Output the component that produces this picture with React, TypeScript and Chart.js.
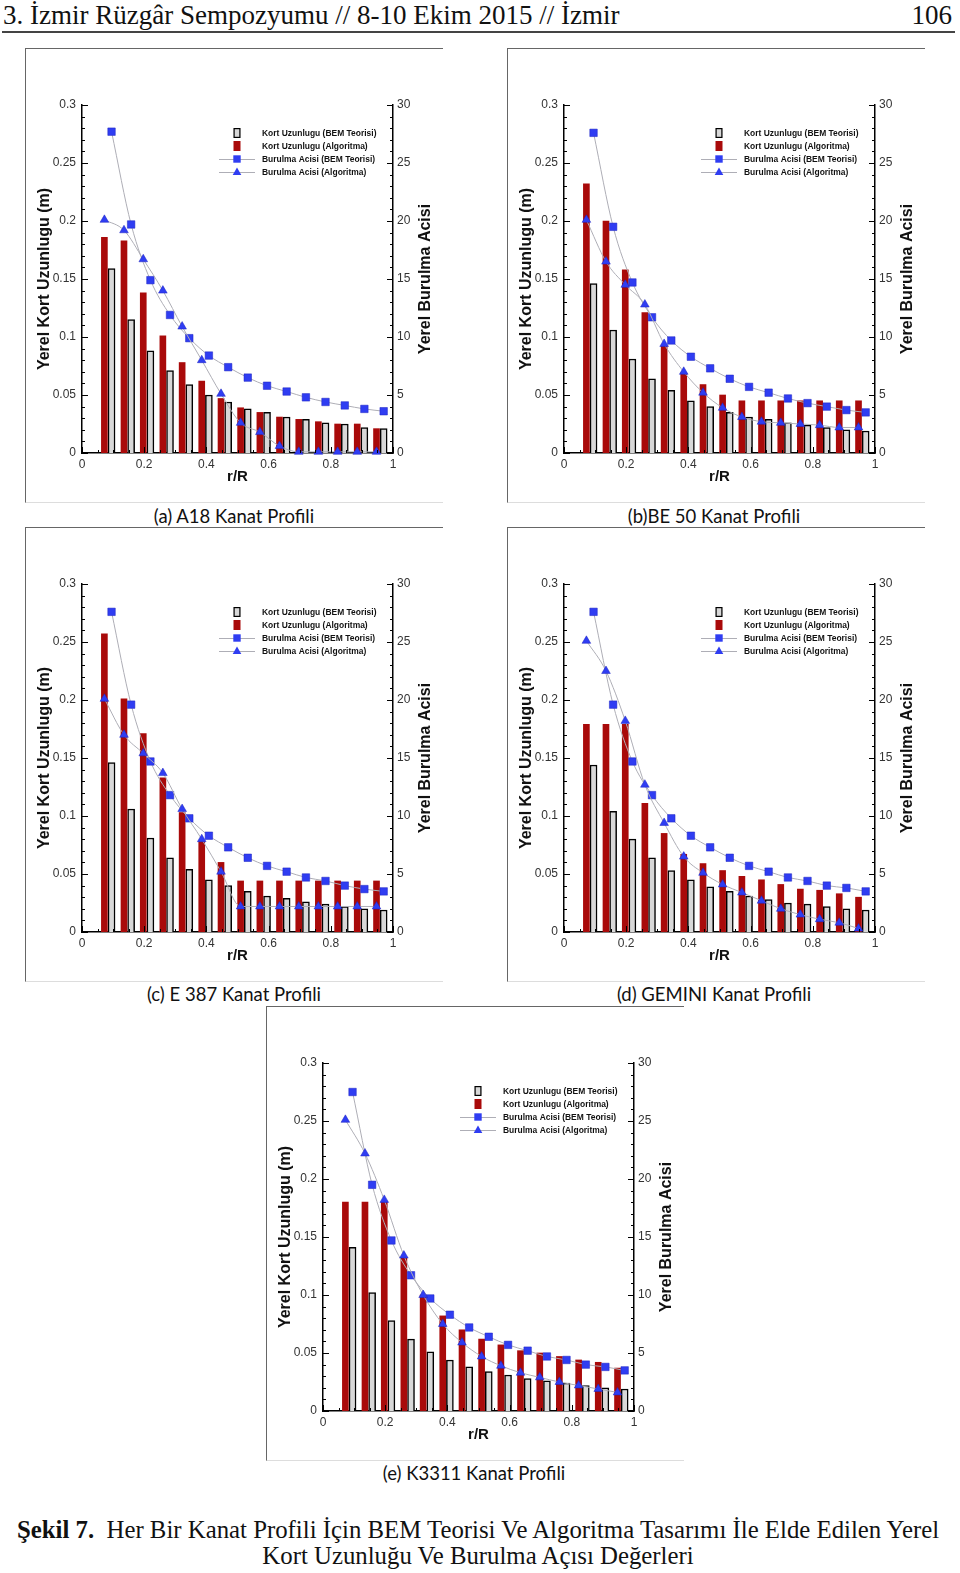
import React, { useEffect, useRef } from "react";
import { Chart, registerables } from "chart.js";

Chart.register(...registerables);

// r/R stations
const rRAlgoritma = [0.072, 0.135, 0.197, 0.26, 0.322, 0.385, 0.447, 0.51, 0.572, 0.635, 0.697, 0.76, 0.822, 0.885, 0.947];
const rRBem = [0.095, 0.158, 0.22, 0.283, 0.345, 0.408, 0.47, 0.533, 0.595, 0.658, 0.72, 0.783, 0.845, 0.908, 0.97];

const legendLabels = [
  "Kort Uzunlugu (BEM Teorisi)",
  "Kort Uzunlugu (Algoritma)",
  "Burulma Acisi (BEM Teorisi)",
  "Burulma Acisi (Algoritma)",
];

// (a) A18
const a18KortBem = [0.159, 0.115, 0.088, 0.071, 0.059, 0.05, 0.044, 0.038, 0.035, 0.031, 0.029, 0.026, 0.025, 0.022, 0.021];
const a18KortAlg = [0.186, 0.183, 0.138, 0.101, 0.078, 0.062, 0.047, 0.039, 0.035, 0.031, 0.029, 0.027, 0.025, 0.025, 0.021];
const a18BurBem = [27.7, 19.7, 14.9, 11.9, 9.9, 8.4, 7.4, 6.5, 5.8, 5.3, 4.8, 4.4, 4.1, 3.8, 3.6];
const a18BurAlg = [20.1, 19.2, 16.7, 14.0, 10.9, 8.0, 5.1, 2.6, 1.8, 0.6, 0.1, 0.1, 0.1, 0.1, 0.1];

// (b) BE 50
const be50KortBem = [0.146, 0.106, 0.081, 0.064, 0.054, 0.045, 0.04, 0.035, 0.031, 0.029, 0.026, 0.024, 0.022, 0.02, 0.019];
const be50KortAlg = [0.232, 0.2, 0.158, 0.121, 0.092, 0.069, 0.059, 0.05, 0.045, 0.045, 0.045, 0.045, 0.045, 0.045, 0.045];
const be50BurBem = [27.6, 19.5, 14.7, 11.7, 9.7, 8.3, 7.3, 6.4, 5.7, 5.2, 4.7, 4.3, 4.0, 3.7, 3.5];
const be50BurAlg = [20.1, 16.5, 14.5, 12.8, 9.4, 7.0, 5.2, 3.9, 3.1, 2.7, 2.6, 2.5, 2.4, 2.2, 2.2];

// (c) E 387
const e387KortBem = [0.146, 0.106, 0.081, 0.064, 0.054, 0.045, 0.04, 0.035, 0.031, 0.029, 0.026, 0.024, 0.022, 0.02, 0.019];
const e387KortAlg = [0.257, 0.201, 0.171, 0.133, 0.103, 0.078, 0.06, 0.044, 0.044, 0.044, 0.044, 0.044, 0.044, 0.044, 0.044];
const e387BurBem = [27.6, 19.6, 14.7, 11.8, 9.8, 8.3, 7.3, 6.4, 5.7, 5.2, 4.7, 4.4, 4.0, 3.7, 3.5];
const e387BurAlg = [20.1, 17.0, 15.4, 13.7, 10.6, 8.0, 5.2, 2.2, 2.2, 2.2, 2.2, 2.2, 2.2, 2.2, 2.2];

// (d) GEMINI
const geminiKortBem = [0.144, 0.104, 0.08, 0.064, 0.053, 0.045, 0.039, 0.035, 0.031, 0.028, 0.025, 0.024, 0.022, 0.02, 0.019];
const geminiKortAlg = [0.179, 0.179, 0.179, 0.111, 0.085, 0.067, 0.059, 0.053, 0.048, 0.045, 0.041, 0.037, 0.036, 0.033, 0.03];
const geminiBurBem = [27.6, 19.6, 14.7, 11.8, 9.8, 8.3, 7.3, 6.4, 5.7, 5.2, 4.7, 4.4, 4.0, 3.8, 3.5];
const geminiBurAlg = [25.1, 22.5, 18.2, 12.7, 9.4, 6.5, 5.1, 4.1, 3.4, 2.7, 2.0, 1.5, 1.1, 0.8, 0.3];

// (e) K3311
const k3311KortBem = [0.141, 0.102, 0.078, 0.062, 0.051, 0.044, 0.038, 0.034, 0.031, 0.028, 0.026, 0.024, 0.022, 0.02, 0.019];
const k3311KortAlg = [0.18, 0.18, 0.18, 0.132, 0.1, 0.082, 0.07, 0.062, 0.057, 0.052, 0.05, 0.047, 0.044, 0.042, 0.037];
const k3311BurBem = [27.5, 19.5, 14.7, 11.7, 9.7, 8.3, 7.2, 6.4, 5.7, 5.2, 4.7, 4.4, 4.0, 3.8, 3.5];
const k3311BurAlg = [25.1, 22.2, 18.2, 13.4, 10.0, 7.5, 5.9, 4.7, 3.9, 3.3, 2.9, 2.5, 2.2, 1.9, 1.6];

const SANS = "'Liberation Sans', Arial, sans-serif";
const RED = "#a90a0a";
const GRAY = "#d8d8d8";
const BLUE = "#2f3df2";
const BLUE_EDGE = "#1c22c0";
const LINE_GRAY = "#aeaeb6";

const CW = 417;
const CH = 453;

type PanelProps = {
  left: number;
  top: number;
  kortBem: number[];
  kortAlg: number[];
  burBem: number[];
  burAlg: number[];
};

function drawBox(ctx: CanvasRenderingContext2D, x: number, y: number, w: number, h: number, fill: string, stroke?: string) {
  ctx.fillStyle = fill;
  ctx.fillRect(x, y, w, h);
  if (stroke) {
    ctx.strokeStyle = stroke;
    ctx.lineWidth = 1.2;
    ctx.strokeRect(x + 0.6, y + 0.6, w - 1.2, h - 1.2);
  }
}

const fmt = (v: any) => String(Math.round(Number(v) * 100) / 100);

const decorPlugin = {
  id: "decor",
  afterDraw(chart: any) {
    const ctx: CanvasRenderingContext2D = chart.ctx;
    const { left, right, top, bottom } = chart.chartArea;
    const sx = chart.scales.x;
    const sy = chart.scales.y;
    const sy2 = chart.scales.y2;
    ctx.save();
    ctx.strokeStyle = "#000";
    ctx.lineWidth = 1;
    ctx.beginPath();
    for (let k = 0; k <= 30; k++) {
      const v = k * 0.01;
      const py = Math.round(sy.getPixelForValue(v)) + 0.5;
      const len = k % 5 === 0 ? 6 : 3;
      ctx.moveTo(left, py);
      ctx.lineTo(left + len, py);
      const py2 = Math.round(sy2.getPixelForValue(k)) + 0.5;
      ctx.moveTo(right, py2);
      ctx.lineTo(right - len, py2);
    }
    for (let k = 0; k <= 20; k++) {
      const v = k * 0.05;
      const px = Math.round(sx.getPixelForValue(v)) + 0.5;
      const len = k % 4 === 0 ? 6 : 3;
      ctx.moveTo(px, bottom);
      ctx.lineTo(px, bottom - len);
    }
    ctx.stroke();

    // right axis title (reads bottom-to-top)
    ctx.fillStyle = "#111";
    ctx.font = `bold 16px ${SANS}`;
    ctx.textAlign = "center";
    ctx.textBaseline = "middle";
    ctx.translate(right + 33, (top + bottom) / 2);
    ctx.rotate(-Math.PI / 2);
    ctx.fillText("Yerel Burulma Acisi", 0, 0);
    ctx.restore();

    // legend
    ctx.save();
    const symX = left + 155;
    const textX = left + 180;
    const rows = [top + 28, top + 41, top + 54, top + 67];
    rows.forEach((ry, i) => {
      if (i === 0) drawBox(ctx, symX - 3.5, ry - 5, 7, 10, GRAY, "#000");
      if (i === 1) drawBox(ctx, symX - 3.5, ry - 5, 7, 10, RED);
      if (i >= 2) {
        ctx.strokeStyle = LINE_GRAY;
        ctx.lineWidth = 1;
        ctx.beginPath();
        ctx.moveTo(left + 137, ry + 0.5);
        ctx.lineTo(left + 173, ry + 0.5);
        ctx.stroke();
        ctx.fillStyle = BLUE;
        ctx.beginPath();
        if (i === 2) {
          ctx.rect(symX - 3.7, ry - 3.7, 7.4, 7.4);
        } else {
          ctx.moveTo(symX, ry - 4.5);
          ctx.lineTo(symX + 4.3, ry + 3);
          ctx.lineTo(symX - 4.3, ry + 3);
          ctx.closePath();
        }
        ctx.fill();
      }
      ctx.save();
      ctx.fillStyle = "#111";
      ctx.font = `bold 9.5px ${SANS}`;
      ctx.textAlign = "left";
      ctx.textBaseline = "middle";
      ctx.translate(textX, ry + 0.5);
      ctx.scale(0.89, 1);
      ctx.fillText(legendLabels[i], 0, 0);
      ctx.restore();
    });
    ctx.restore();
  },
};

function Panel({ left, top, kortBem, kortAlg, burBem, burAlg }: PanelProps) {
  const ref = useRef<HTMLCanvasElement | null>(null);
  useEffect(() => {
    if (!ref.current) return;
    const tickFont = { family: SANS, size: 12 };
    const chart = new Chart(ref.current, {
      type: "bar",
      data: {
        datasets: [
          {
            type: "line",
            label: legendLabels[3],
            data: rRAlgoritma.map((x, i) => ({ x, y: burAlg[i] })),
            xAxisID: "x",
            yAxisID: "y2",
            borderColor: LINE_GRAY,
            borderWidth: 1,
            pointStyle: "triangle",
            pointRadius: 5,
            pointBackgroundColor: BLUE,
            pointBorderColor: BLUE_EDGE,
            pointBorderWidth: 0.5,
            cubicInterpolationMode: "monotone",
            clip: false,
            order: 0,
          } as any,
          {
            type: "line",
            label: legendLabels[2],
            data: rRBem.map((x, i) => ({ x, y: burBem[i] })),
            xAxisID: "x",
            yAxisID: "y2",
            borderColor: LINE_GRAY,
            borderWidth: 1,
            pointStyle: "rect",
            pointRadius: 5.3,
            pointBackgroundColor: BLUE,
            pointBorderColor: BLUE_EDGE,
            pointBorderWidth: 0.5,
            cubicInterpolationMode: "monotone",
            clip: false,
            order: 0,
          } as any,
          {
            type: "bar",
            label: legendLabels[1],
            data: rRAlgoritma.map((x, i) => ({ x, y: kortAlg[i] })),
            xAxisID: "x",
            yAxisID: "y",
            backgroundColor: RED,
            borderWidth: 0,
            barThickness: 6,
            grouped: false,
            order: 1,
          } as any,
          {
            type: "bar",
            label: legendLabels[0],
            data: rRBem.map((x, i) => ({ x, y: kortBem[i] })),
            xAxisID: "x",
            yAxisID: "y",
            backgroundColor: GRAY,
            borderColor: "#000",
            borderWidth: 1.5,
            barThickness: 7,
            grouped: false,
            order: 1,
          } as any,
        ],
      },
      options: {
        responsive: false,
        animation: false,
        events: [],
        layout: { padding: { left: 6, right: 5, top: 56, bottom: 12 } },
        plugins: { legend: { display: false }, tooltip: { enabled: false } },
        scales: {
          x: {
            type: "linear",
            min: 0,
            max: 1,
            offset: false,
            grid: { display: false, drawTicks: false },
            border: { display: true, color: "#000", width: 1.5 },
            ticks: { stepSize: 0.2, padding: 4, color: "#333", font: tickFont, maxRotation: 0, autoSkip: false, callback: fmt },
            title: { display: true, text: "r/R", color: "#111", font: { family: SANS, size: 15, weight: "bold" }, padding: { top: 2, bottom: 4 } },
            afterFit: (s: any) => {
              s.height = 37;
            },
          },
          y: {
            type: "linear",
            position: "left",
            min: 0,
            max: 0.3,
            grid: { display: false, drawTicks: false },
            border: { display: true, color: "#000", width: 1.5 },
            ticks: { stepSize: 0.05, padding: 6, color: "#333", font: tickFont, callback: fmt },
            title: { display: true, text: "Yerel Kort Uzunlugu (m)", color: "#111", font: { family: SANS, size: 16, weight: "bold" }, padding: { top: 3, bottom: 4 } },
            afterFit: (s: any) => {
              s.width = 50;
            },
          },
          y2: {
            type: "linear",
            position: "right",
            min: 0,
            max: 30,
            grid: { display: false, drawTicks: false },
            border: { display: true, color: "#000", width: 1.5 },
            ticks: { stepSize: 5, padding: 4, color: "#333", font: tickFont, callback: fmt },
            afterFit: (s: any) => {
              s.width = 45;
            },
          },
        },
      } as any,
      plugins: [decorPlugin],
    });
    return () => chart.destroy();
  }, []);
  return (
    <div
      style={{
        position: "absolute",
        left,
        top,
        width: CW,
        height: CH,
        borderTop: "1px solid #666",
        borderLeft: "1px solid #666",
        borderBottom: "1px solid #ddd",
      }}
    >
      <canvas ref={ref} width={CW} height={CH} style={{ display: "block", width: CW, height: CH }} />
    </div>
  );
}

function Caption({ cx, cy, text }: { cx: number; cy: number; text: string }) {
  return (
    <div
      style={{
        position: "absolute",
        left: cx - 200,
        width: 400,
        top: cy - 12,
        lineHeight: "24px",
        textAlign: "center",
        fontFamily: "Lato, 'Open Sans', sans-serif",
        fontSize: 18.5,
        color: "#111",
        whiteSpace: "nowrap",
      }}
    >
      {text}
    </div>
  );
}

export default function App() {
  return (
    <div style={{ position: "absolute", left: 0, top: 0, width: 960, height: 1573, background: "#fff", overflow: "hidden" }}>
      <div
        style={{
          position: "absolute",
          left: 3,
          top: -1,
          fontFamily: "'Liberation Serif', 'Times New Roman', serif",
          fontSize: 27,
          lineHeight: "32px",
          color: "#111",
          whiteSpace: "nowrap",
        }}
      >
        3. İzmir Rüzgâr Sempozyumu // 8-10 Ekim 2015 // İzmir
      </div>
      <div
        style={{
          position: "absolute",
          right: 8,
          top: -1,
          fontFamily: "'Liberation Serif', 'Times New Roman', serif",
          fontSize: 27,
          lineHeight: "32px",
          color: "#111",
        }}
      >
        106
      </div>
      <div style={{ position: "absolute", left: 2, top: 31, width: 953, height: 2, background: "#444" }} />

      <Panel left={25} top={48} kortBem={a18KortBem} kortAlg={a18KortAlg} burBem={a18BurBem} burAlg={a18BurAlg} />
      <Panel left={507} top={48} kortBem={be50KortBem} kortAlg={be50KortAlg} burBem={be50BurBem} burAlg={be50BurAlg} />
      <Panel left={25} top={527} kortBem={e387KortBem} kortAlg={e387KortAlg} burBem={e387BurBem} burAlg={e387BurAlg} />
      <Panel left={507} top={527} kortBem={geminiKortBem} kortAlg={geminiKortAlg} burBem={geminiBurBem} burAlg={geminiBurAlg} />
      <Panel left={266} top={1006} kortBem={k3311KortBem} kortAlg={k3311KortAlg} burBem={k3311BurBem} burAlg={k3311BurAlg} />

      <Caption cx={234} cy={516} text="(a) A18 Kanat Profili" />
      <Caption cx={714} cy={516} text="(b)BE 50 Kanat Profili" />
      <Caption cx={234} cy={994} text="(c) E 387 Kanat Profili" />
      <Caption cx={714} cy={994} text="(d) GEMINI Kanat Profili" />
      <Caption cx={474} cy={1473} text="(e) K3311 Kanat Profili" />

      <div
        style={{
          position: "absolute",
          left: 0,
          width: 956,
          top: 1517,
          textAlign: "center",
          fontFamily: "'Liberation Serif', 'Times New Roman', serif",
          fontSize: 24.8,
          lineHeight: "26px",
          color: "#111",
          whiteSpace: "nowrap",
        }}
      >
        <b>Şekil 7.</b>&nbsp; Her Bir Kanat Profili İçin BEM Teorisi Ve Algoritma Tasarımı İle Elde Edilen Yerel
        <br />
        Kort Uzunluğu Ve Burulma Açısı Değerleri
      </div>
    </div>
  );
}
